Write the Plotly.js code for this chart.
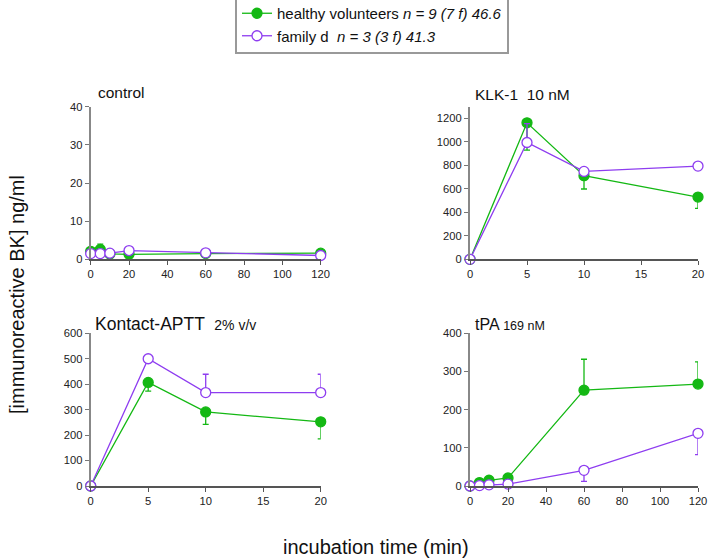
<!DOCTYPE html>
<html><head><meta charset="utf-8">
<script src="https://cdn.plot.ly/plotly-3.0.1.min.js"></script>
<style>body{margin:0;background:#fff}#plot{width:708px;height:559px}</style>
</head><body><div id="plot"></div>
<script>
// ---- data ----
const seriesNames = ['healthy volunteers <i>n = 9 (7 f) 46.6</i>', 'family d  <i>n = 3 (3 f) 41.3</i>'];
const panelTitles = ['control', 'KLK-1  10 nM', 'Kontact-APTT  <span style="font-size:14px">2% v/v</span>', 'tPA <span style="font-size:12.5px">169 nM</span>'];

const xLong = [0, 5, 10, 20, 60, 120];
const xShort = [0, 5, 10, 20];
const ticksLong = [0, 20, 40, 60, 80, 100, 120];
const ticksShort = [0, 5, 10, 15, 20];

const controlHealthy = [2.1, 2.6, 1.4, 1.3, 1.5, 1.6];
const controlHealthyErrUp = [0, 1.4, 0, 0, 0, 0];
const controlFamily = [1.5, 1.5, 1.6, 2.3, 1.7, 1.0];

const klkHealthy = [0, 1163, 712, 530];
const klkHealthyErrDown = [0, 233, 113, 96];
const klkFamily = [0, 995, 749, 794];
const klkFamilyErrUp = [0, 160, 0, 0];

const apttHealthy = [0, 407, 291, 252];
const apttHealthyErrDown = [0, 34, 49, 67];
const apttFamily = [0, 500, 367, 367];
const apttFamilyErrUp = [0, 0, 72, 72];

const tpaHealthy = [0, 9, 15, 21, 251, 267];
const tpaHealthyErrUp = [0, 0, 0, 0, 81, 58];
const tpaFamily = [0, 1, 3, 5, 41, 138];
const tpaFamilyErrDown = [0, 0, 0, 0, 29, 56];

const zeros6 = [0,0,0,0,0,0], zeros4 = [0,0,0,0];

// ---- styling ----
const green = '#14b814', purple = '#8e3df0';
function tr(x, y, plus, minus, isHealthy, ax, show) {
  const c = isHealthy ? green : purple;
  return {
    x: x, y: y, xaxis: 'x' + ax, yaxis: 'y' + ax, type: 'scatter', mode: 'lines+markers',
    name: isHealthy ? seriesNames[0] : seriesNames[1], showlegend: show, legendgroup: isHealthy ? 'h' : 'f',
    line: {color: c, width: 1.3},
    marker: {size: 10, color: isHealthy ? c : '#ffffff', line: {color: c, width: 1.3}, symbol: 'circle'},
    error_y: {type: 'data', symmetric: false, array: plus, arrayminus: minus, color: c, thickness: 1.3, width: 3, visible: true},
    cliponaxis: false
  };
}
const data = [
  tr(xLong, controlHealthy, controlHealthyErrUp, zeros6, true, '', true),
  tr(xLong, controlFamily, zeros6, zeros6, false, '', true),
  tr(xShort, klkHealthy, zeros4, klkHealthyErrDown, true, '2', false),
  tr(xShort, klkFamily, klkFamilyErrUp, zeros4, false, '2', false),
  tr(xShort, apttHealthy, zeros4, apttHealthyErrDown, true, '3', false),
  tr(xShort, apttFamily, apttFamilyErrUp, zeros4, false, '3', false),
  tr(xLong, tpaHealthy, tpaHealthyErrUp, zeros6, true, '4', false),
  tr(xLong, tpaFamily, zeros6, tpaFamilyErrDown, false, '4', false)
];

const W = 708, H = 559;
const colL = [90.7/W, 320.7/W], colR = [470/W, 698/W];
const rowT = [(H-259.3)/H, (H-106.7)/H], rowB = [(H-486)/H, (H-333.3)/H];
const fnt = {family: 'Liberation Sans, Arial, sans-serif', size: 11.2, color: '#222'};
function xa(dom, range, tv, anchor) {
  return {domain: dom, range: range, tickmode: 'array', tickvals: tv, anchor: anchor, showgrid: false, zeroline: false,
    showline: true, linecolor: '#555', linewidth: 1.5, ticks: 'outside', ticklen: 4, tickcolor: '#555',
    tickfont: fnt, fixedrange: true, ticklabeloverflow: 'allow'};
}
function ya(dom, range, dtick, anchor) {
  return {domain: dom, range: range, dtick: dtick, anchor: anchor, showgrid: false, zeroline: false,
    showline: true, linecolor: '#888', linewidth: 2, ticks: 'outside', ticklen: 4, tickcolor: '#777',
    tickfont: fnt, fixedrange: true};
}
const layout = {
  width: W, height: H, margin: {l: 0, r: 0, t: 0, b: 0, autoexpand: false}, paper_bgcolor: '#fff', plot_bgcolor: '#fff',
  font: {family: 'Liberation Sans, Arial, sans-serif', color: '#111'},
  xaxis: xa(colL, [0, 120], ticksLong, 'y'), yaxis: ya(rowT, [0, 40], 10, 'x'),
  xaxis2: xa(colR, [0, 20], ticksShort, 'y2'), yaxis2: ya(rowT, [0, 1300], 200, 'x2'),
  xaxis3: xa(colL, [0, 20], ticksShort, 'y3'), yaxis3: ya(rowB, [0, 600], 100, 'x3'),
  xaxis4: xa(colR, [0, 120], ticksLong, 'y4'), yaxis4: ya(rowB, [0, 400], 100, 'x4'),
  showlegend: true,
  legend: {x: 235/W, y: 1 + 5/H, xanchor: 'left', yanchor: 'top', bordercolor: '#999', borderwidth: 2,
    bgcolor: '#fff', font: {size: 15, family: 'Liberation Sans, Arial, sans-serif', color: '#111'},
    tracegroupgap: 0, itemwidth: 30},
  annotations: [
    {text: panelTitles[0], x: 96/W, y: 1 - 93/H, xref: 'paper', yref: 'paper', xanchor: 'left', yanchor: 'middle', showarrow: false, font: {size: 15.5}},
    {text: panelTitles[1], x: 473/W, y: 1 - 94/H, xref: 'paper', yref: 'paper', xanchor: 'left', yanchor: 'middle', showarrow: false, font: {size: 15.5}},
    {text: panelTitles[2], x: 93/W, y: 1 - 324/H, xref: 'paper', yref: 'paper', xanchor: 'left', yanchor: 'middle', showarrow: false, font: {size: 17.5}},
    {text: panelTitles[3], x: 473/W, y: 1 - 324/H, xref: 'paper', yref: 'paper', xanchor: 'left', yanchor: 'middle', showarrow: false, font: {size: 16}},
    {text: '[immunoreactive BK] ng/ml', x: 17/W, y: 1 - 295/H, xref: 'paper', yref: 'paper', xanchor: 'center', yanchor: 'middle', textangle: -90, showarrow: false, font: {size: 20}},
    {text: 'incubation time (min)', x: 376/W, y: 1 - 547/H, xref: 'paper', yref: 'paper', xanchor: 'center', yanchor: 'middle', showarrow: false, font: {size: 20}}
  ]
};
Plotly.newPlot('plot', data, layout, {staticPlot: true});
</script></body></html>
